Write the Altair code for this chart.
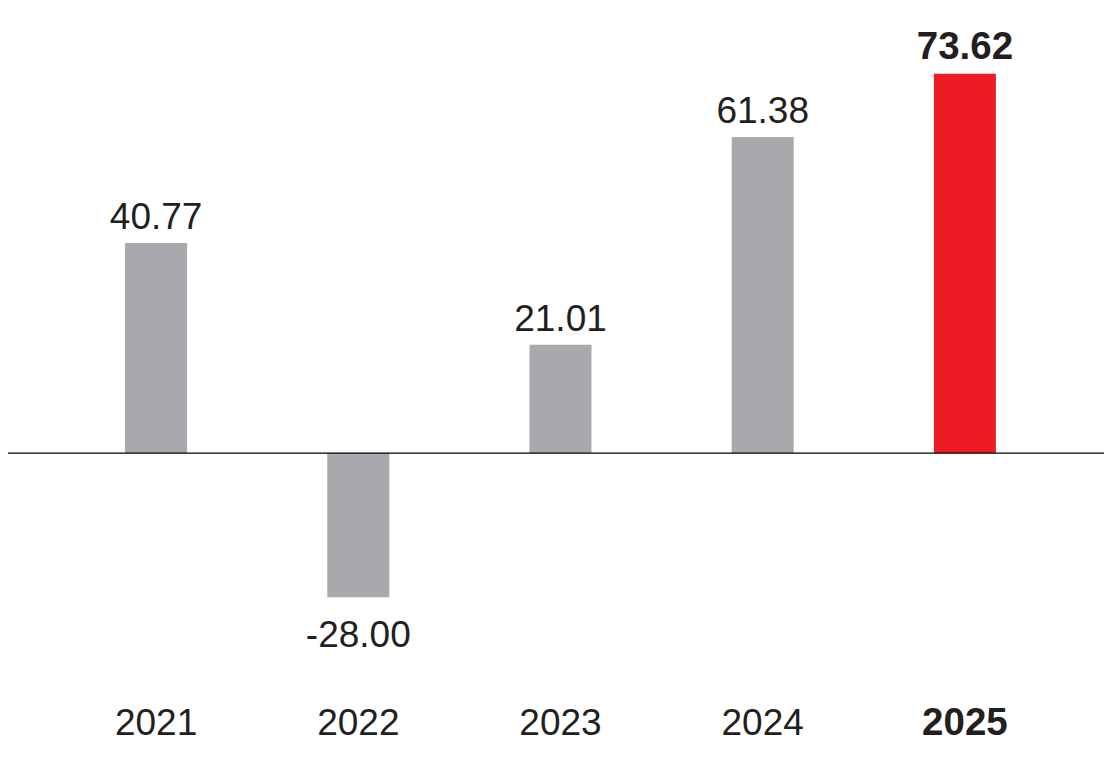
import altair as alt
import pandas

years = ["2021", "2022", "2023", "2024", "2025"]
values = [40.77, -28.00, 21.01, 61.38, 73.62]
labels = ["40.77", "-28.00", "21.01", "61.38", "73.62"]
highlight = [False, False, False, False, True]

df = pandas.DataFrame(
    {"year": years, "value": values, "label": labels, "highlight": highlight}
)

font = "Liberation Sans"
ink = "#231f20"
y_domain = [-59.2, 86.4]

x = alt.X(
    "year:N",
    axis=None,
    sort=years,
    scale=alt.Scale(range=[47, 1058], paddingInner=0, paddingOuter=0),
)
y = alt.Y("value:Q", axis=None, scale=alt.Scale(domain=y_domain, nice=False))

base = alt.Chart(df).encode(x=x)

bars = base.mark_bar(size=62).encode(
    y=y,
    y2=alt.datum(0),
    color=alt.condition("datum.highlight", alt.value("#ed1c24"), alt.value("#a7a9ac")),
)

zero = (
    alt.Chart(pandas.DataFrame({"z": [0]}))
    .mark_rule(color="#000000", strokeWidth=1.2)
    .encode(
        y=alt.Y("z:Q", scale=alt.Scale(domain=y_domain, nice=False), axis=None),
        x=alt.value(-8),
        x2=alt.value(1110),
    )
)

text_style = dict(font=font, color=ink, baseline="alphabetic")

pos_labels = (
    base.transform_filter("datum.value > 0 && !datum.highlight")
    .mark_text(dy=-14, fontSize=37, **text_style)
    .encode(y=y, text="label:N")
)

top_label = (
    base.transform_filter("datum.highlight")
    .mark_text(dy=-15, fontSize=38.5, fontWeight="bold", **text_style)
    .encode(y=y, text="label:N")
)

neg_labels = (
    base.transform_filter("datum.value < 0")
    .mark_text(dy=50, fontSize=37, **text_style)
    .encode(y=y, text="label:N")
)

year_labels = (
    base.transform_filter("!datum.highlight")
    .mark_text(fontSize=37, **text_style)
    .encode(y=alt.value(727), text="year:N")
)

year_bold = (
    base.transform_filter("datum.highlight")
    .mark_text(fontSize=38.5, fontWeight="bold", **text_style)
    .encode(y=alt.value(727), text="year:N")
)

chart = (
    alt.layer(bars, zero, pos_labels, top_label, neg_labels, year_labels, year_bold)
    .properties(
        width=1096, height=750, autosize=alt.AutoSizeParams(type="none"), padding=0
    )
    .configure_view(stroke=None)
)

chart.save("out.html", embed_options={"renderer": "svg", "actions": False})
